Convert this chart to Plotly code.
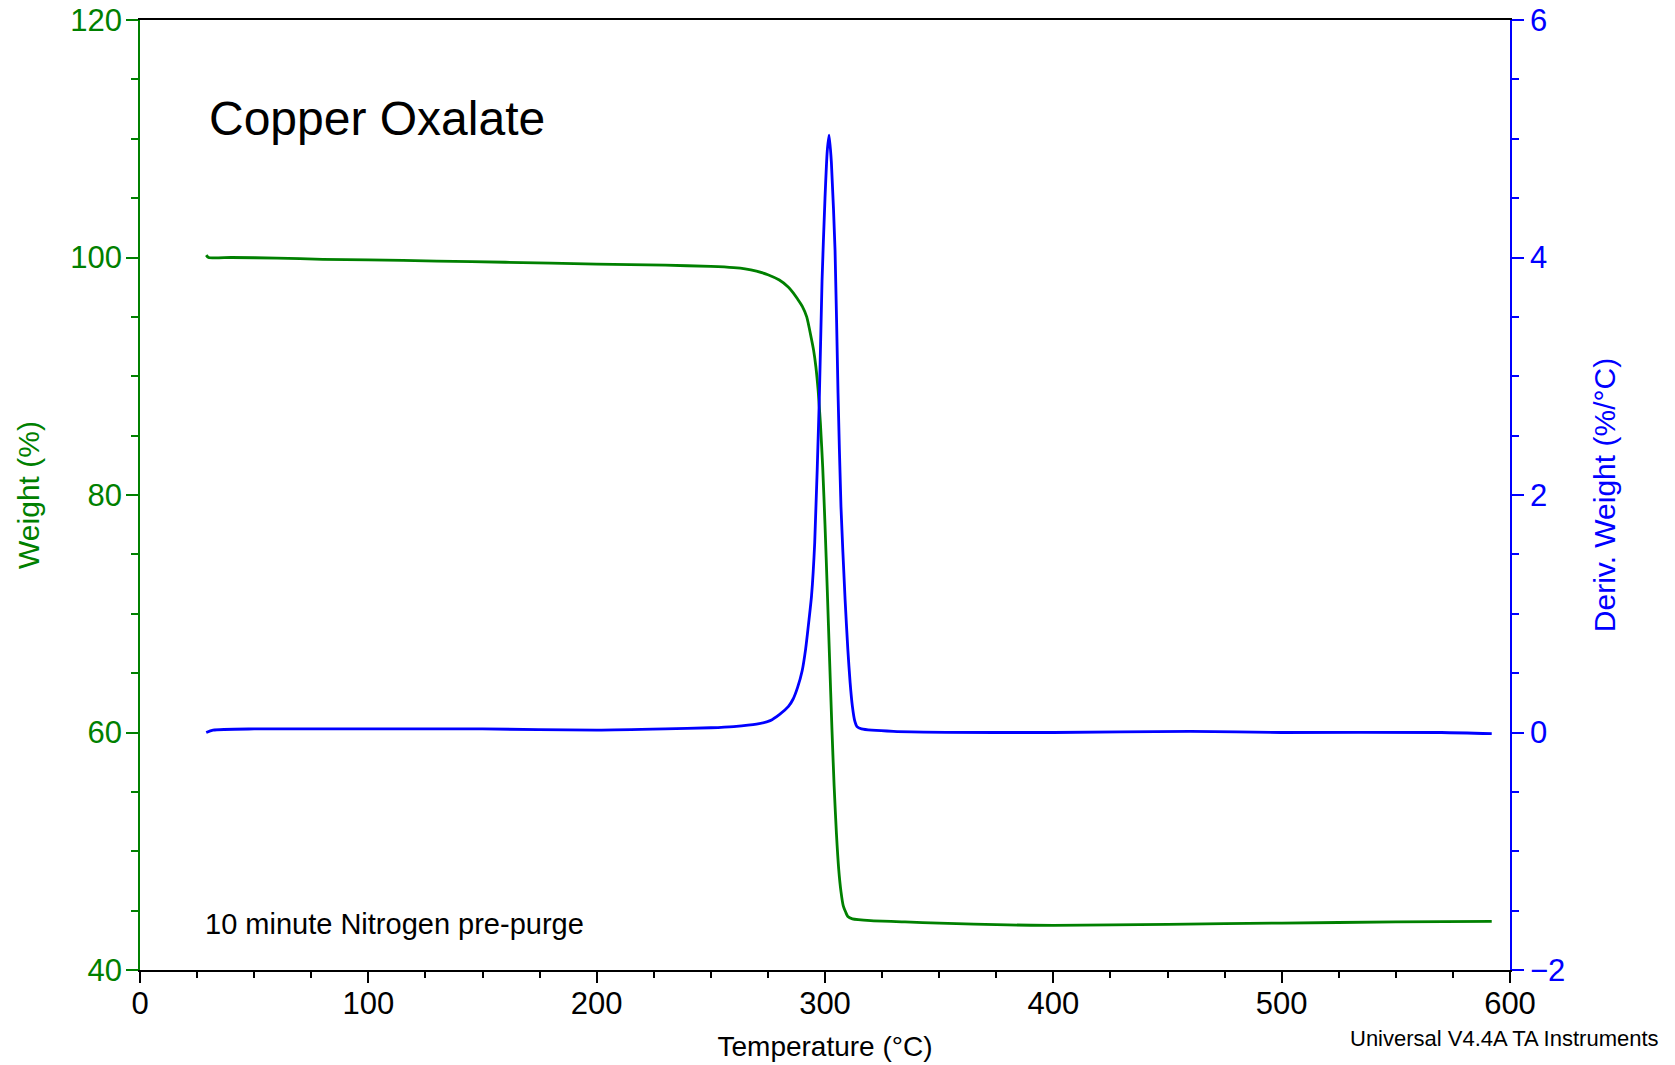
import plotly.graph_objects as go

# ---- Data ----
weight_temp = [29, 30, 40, 60, 80, 100, 130, 160, 200, 230, 250, 260, 265, 270, 275, 280, 284,
               286, 288, 290, 292, 294, 295, 296, 297, 298, 299, 300, 301, 302, 303, 304, 305,
               306, 307, 308, 309, 310, 312, 320, 335, 350, 380, 400, 450, 500, 550, 592]
weight_pct = [100.2, 100.0, 100.0, 99.95, 99.85, 99.8, 99.7, 99.6, 99.45, 99.35, 99.25, 99.15,
              99.05, 98.85, 98.55, 98.1, 97.5, 97.05, 96.5, 95.9, 95.0, 93.2, 92.2, 90.8, 88.8,
              86.0, 82.3, 77.5, 72.0, 66.2, 60.5, 55.5, 51.5, 48.5, 46.6, 45.4, 44.9, 44.5,
              44.3, 44.15, 44.05, 43.95, 43.8, 43.75, 43.85, 43.95, 44.05, 44.1]

deriv_temp = [29, 32, 50, 100, 150, 200, 230, 250, 260, 270, 276, 280, 284, 286, 288, 290,
              291.5, 293, 294.1, 295.5, 297.5, 298.7, 300, 301, 301.8, 302.8, 304.4, 305.7,
              307, 308.8, 310, 311, 312, 313, 314, 316, 330, 400, 460, 500, 570, 592]
deriv_val = [0.0, 0.02, 0.03, 0.03, 0.03, 0.02, 0.03, 0.04, 0.05, 0.07, 0.1, 0.15, 0.22, 0.28,
             0.38, 0.52, 0.7, 0.95, 1.15, 1.6, 2.8, 3.8, 4.5, 4.9, 5.03, 4.8, 4.06, 2.86, 1.9,
             1.12, 0.7, 0.42, 0.22, 0.1, 0.05, 0.03, 0.01, 0.0, 0.01, 0.0, 0.0, -0.01]

x_ticks = [0, 100, 200, 300, 400, 500, 600]
y_ticks = [40, 60, 80, 100, 120]
y2_ticks = [-2, 0, 2, 4, 6]

GREEN = "rgb(0,128,0)"
BLUE = "rgb(0,0,255)"
FONT = "Liberation Sans, Arial, sans-serif"

fig = go.Figure()
fig.add_trace(go.Scatter(x=deriv_temp, y=deriv_val, mode="lines", yaxis="y2",
                         line=dict(color=BLUE, width=2.8, shape="spline", smoothing=0.6),
                         showlegend=False))
fig.add_trace(go.Scatter(x=weight_temp, y=weight_pct, mode="lines", yaxis="y",
                         line=dict(color=GREEN, width=2.8, shape="spline", smoothing=0.6),
                         showlegend=False))

L, R, T, B = 140, 1510, 20, 970
W, H = 1675, 1065

fig.update_layout(
    width=W, height=H,
    margin=dict(l=L, r=W - R, t=T, b=H - B, pad=0, autoexpand=False),
    paper_bgcolor="white", plot_bgcolor="white",
    font=dict(family=FONT, color="black"),
    xaxis=dict(
        range=[0, 600], tickvals=x_ticks, ticks="outside", ticklen=11, tickwidth=1.5,
        tickcolor="black", showline=True, linecolor="black", linewidth=1.5, mirror=True,
        showgrid=False, zeroline=False, tickfont=dict(size=31, color="black"),
        automargin=False, ticklabelstandoff=-6,
        minor=dict(dtick=25, ticks="outside", ticklen=6, tickcolor="black", tickwidth=1.5),
        title=dict(text="Temperature (°C)", font=dict(size=28, color="black"), standoff=16),
    ),
    yaxis=dict(
        range=[40, 120], tickvals=y_ticks, ticks="outside", ticklen=12, tickwidth=1.5,
        tickcolor=GREEN, showline=True, linecolor=GREEN, linewidth=1.5,
        showgrid=False, zeroline=False, tickfont=dict(size=31, color=GREEN),
        automargin=False, ticklabelstandoff=-2,
        minor=dict(dtick=5, ticks="outside", ticklen=7, tickcolor=GREEN, tickwidth=1.5),
        title=dict(text="Weight (%)", font=dict(size=30, color=GREEN), standoff=22),
    ),
    yaxis2=dict(
        range=[-2, 6], tickvals=y2_ticks, overlaying="y", side="right", anchor="x",
        ticks="outside", ticklen=12, tickwidth=1.5, tickcolor=BLUE,
        showline=True, linecolor=BLUE, linewidth=1.5,
        showgrid=False, zeroline=False, tickfont=dict(size=31, color=BLUE),
        automargin=False,
        minor=dict(dtick=0.5, ticks="outside", ticklen=7, tickcolor=BLUE, tickwidth=1.5),
        title=dict(text="Deriv. Weight (%/°C)", font=dict(size=30, color=BLUE), standoff=30),
    ),
    annotations=[
        dict(text="Copper Oxalate", xref="paper", yref="paper",
             x=(209 - L) / (R - L), y=(B - 118.5) / (B - T), xanchor="left", yanchor="middle",
             showarrow=False, font=dict(size=48, color="black"), xshift=-2),
        dict(text="10 minute Nitrogen pre-purge", xref="paper", yref="paper",
             x=(205 - L) / (R - L), y=(B - 923.5) / (B - T), xanchor="left", yanchor="middle",
             showarrow=False, font=dict(size=29, color="black"), xshift=-2),
        dict(text="Universal V4.4A TA Instruments", xref="paper", yref="paper",
             x=(1659 - L) / (R - L), y=(B - 1038.5) / (B - T), xanchor="right", yanchor="middle",
             showarrow=False, font=dict(size=22, color="black"), xshift=2),
    ],
)

fig.write_html("out.html")
